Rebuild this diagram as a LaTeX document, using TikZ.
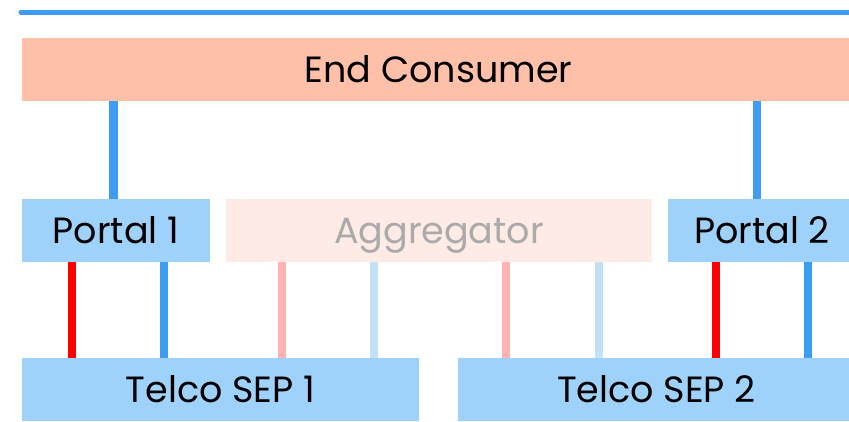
\documentclass[tikz,border=0pt]{standalone}
\usepackage{fontspec}
\setmainfont{Poppins}
\definecolor{peach}{HTML}{FFC0AA}
\definecolor{peachpale}{HTML}{FFEBE5}
\definecolor{boxblue}{HTML}{9FD2FA}
\definecolor{lineblue}{HTML}{3D9DF2}
\definecolor{paleblue}{HTML}{C2E0F8}
\definecolor{palered}{HTML}{FFB3B3}
\definecolor{aggtext}{HTML}{AAAAAA}
\begin{document}
\begin{tikzpicture}[
    x=1pt, y=-1pt,
    bx/.style={rectangle, inner sep=0pt, minimum height=63pt, text height=25.5pt, text depth=0pt,
               font=\fontsize{36.5}{42}\selectfont},
    ec/.style={bx, fill=peach, minimum width=833pt},
    pt/.style={bx, fill=boxblue, minimum width=188pt},
    agg/.style={bx, fill=peachpale, text=aggtext, minimum width=426pt},
    sep/.style={bx, fill=boxblue, minimum width=397pt},
    ln/.style={line width=8.5pt},
]
    \useasboundingbox (0,0) rectangle (849,421);
    % Top rule
    \draw [lineblue, line width=5pt, line cap=round] (21,12) -- (870,12);
    % Row 1: consumer
    \node [ec] (cons) at (438.5,69.5) {End Consumer};
    % Row 2: portals and aggregator
    \node [pt] (p1) at (116,230.5) {Portal 1};
    \node [agg] (agg) at (439,230.5) {Aggregator};
    \node [pt] (p2) at (762,230.5) {Portal 2};
    % Row 3: telco SEPs
    \node [sep] (sep1) at (220.5,389.5) {Telco SEP 1};
    \node [sep] (sep2) at (656.5,389.5) {Telco SEP 2};
    % Consumer to portals
    \draw [ln, lineblue] ([xshift=91.5]p1.north west) -- ([xshift=91.5]p1.north west |- cons.south);
    \draw [ln, lineblue] ([xshift=89]p2.north west) -- ([xshift=89]p2.north west |- cons.south);
    % Portal 1 to SEP 1
    \draw [ln, red] ([xshift=50]p1.south west) -- ([xshift=50]p1.south west |- sep1.north);
    \draw [ln, lineblue] ([xshift=142]p1.south west) -- ([xshift=142]p1.south west |- sep1.north);
    % Aggregator to both SEPs
    \draw [ln, palered] ([xshift=56]agg.south west) -- ([xshift=56]agg.south west |- sep1.north);
    \draw [ln, paleblue] ([xshift=148]agg.south west) -- ([xshift=148]agg.south west |- sep1.north);
    \draw [ln, palered] ([xshift=280]agg.south west) -- ([xshift=280]agg.south west |- sep2.north);
    \draw [ln, paleblue] ([xshift=373]agg.south west) -- ([xshift=373]agg.south west |- sep2.north);
    % Portal 2 to SEP 2
    \draw [ln, red] ([xshift=48]p2.south west) -- ([xshift=48]p2.south west |- sep2.north);
    \draw [ln, lineblue] ([xshift=140]p2.south west) -- ([xshift=140]p2.south west |- sep2.north);
\end{tikzpicture}
\end{document}
